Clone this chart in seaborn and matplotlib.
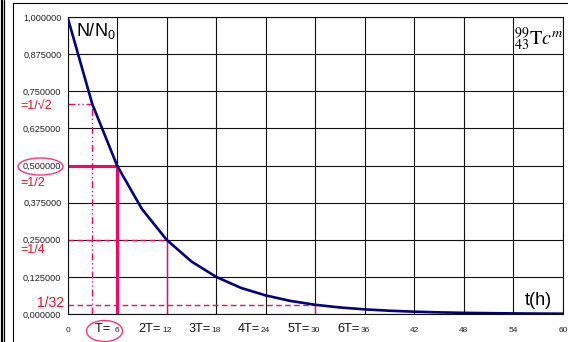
import numpy as np
import pandas as pd
import matplotlib
matplotlib.use("Agg")
import matplotlib.pyplot as plt
import matplotlib.transforms as mtransforms
from matplotlib.patches import Ellipse
from matplotlib.lines import Line2D
import seaborn as sns

# ---- data ----
t_hours = [0, 3, 6, 9, 12, 15, 18, 21, 24, 27, 30, 33, 36, 39, 42, 45, 48, 51, 54, 57, 60]
n_ratio = [1.000, 0.707, 0.500, 0.354, 0.250, 0.177, 0.125, 0.088, 0.0625, 0.044, 0.031,
           0.022, 0.0156, 0.011, 0.0078, 0.0055, 0.0039, 0.0028, 0.0020, 0.0014, 0.0010]

x_ticks = [0, 6, 12, 18, 24, 30, 36, 42, 48, 54, 60]
x_tick_numbers = ["0", "6", "12", "18", "24", "30", "36", "42", "48", "54", "60"]
x_tick_prefixes = ["", "T= ", "2T=", "3T=", "4T=", "5T=", "6T=", "", "", "", ""]

y_ticks = [0, 0.125, 0.25, 0.375, 0.5, 0.625, 0.75, 0.875, 1.0]
y_tick_labels = ["0,000000", "0,125000", "0,250000", "0,375000", "0,500000",
                 "0,625000", "0,750000", "0,875000", "1,000000"]

guide_times = [3, 6, 12, 30]
guide_levels = [0.7071, 0.5, 0.25, 0.03125]
guide_labels = ["=1/\u221a2", "=1/2", "=1/4", "1/32"]

# ---- style ----
sns.set_style("white")
plt.rcParams["font.family"] = ["Liberation Sans", "DejaVu Sans"]
plt.rcParams["mathtext.fontset"] = "custom"
plt.rcParams["mathtext.rm"] = "Liberation Sans"
plt.rcParams["mathtext.it"] = "Liberation Sans:italic"
plt.rcParams["mathtext.bf"] = "Liberation Sans:bold"

W, H = 568, 342
fig = plt.figure(figsize=(W / 100, H / 100), dpi=100)
fig.patch.set_facecolor("white")

def P(x, y):
    return (x / W, 1 - y / H)

ax_l, ax_r, ax_t, ax_b = 67.5, 563, 17, 314
ax = fig.add_axes([ax_l / W, 1 - ax_b / H, (ax_r - ax_l) / W, (ax_b - ax_t) / H])

RED_LINE = "#FF0066"
RED_TEXT = "#E8102A"

# guide lines
ax.plot([0, guide_times[0]], [guide_levels[0]] * 2, color=RED_LINE, lw=1.0,
        dashes=(5, 2, 1, 2, 1, 2), zorder=2)
ax.plot([guide_times[0]] * 2, [0, guide_levels[0]], color=RED_LINE, lw=1.0,
        dashes=(5, 2, 1, 2, 1, 2), zorder=2)
ax.plot([0, guide_times[1]], [guide_levels[1]] * 2, color=RED_LINE, lw=2.2, zorder=2)
ax.plot([guide_times[1]] * 2, [0, guide_levels[1]], color=RED_LINE, lw=2.2, zorder=2)
ax.plot([0, guide_times[2]], [guide_levels[2]] * 2, color=RED_LINE, lw=1.0,
        dashes=(4, 2.5), zorder=2)
ax.plot([guide_times[2]] * 2, [0, guide_levels[2]], color=RED_LINE, lw=1.0, zorder=2)
ax.plot([0, guide_times[3]], [guide_levels[3]] * 2, color=RED_LINE, lw=1.0,
        dashes=(4, 2.5), zorder=2)
ax.plot([guide_times[3]] * 2, [0, guide_levels[3]], color=RED_LINE, lw=1.0, zorder=2)

# decay curve
df = pd.DataFrame({"t": t_hours, "n": n_ratio})
sns.lineplot(data=df, x="t", y="n", ax=ax, color="#000080", lw=1.9, zorder=3)

ax.set_xlim(0, 60)
ax.set_ylim(0, 1)
ax.set_xlabel("")
ax.set_ylabel("")
ax.set_xticks(x_ticks)
ax.set_xticklabels(x_tick_numbers, fontsize=6, color="#222222")
ax.set_yticks(y_ticks)
ax.set_yticklabels(y_tick_labels, fontsize=6.6, color="#222222")
ax.tick_params(axis="x", direction="out", length=3, width=0.8, pad=6.2, colors="#222222")
ax.tick_params(axis="y", direction="out", length=3.6, width=0.8, pad=0.8, colors="#222222")
ax.grid(True, color="#111111", lw=0.8)
for s in ax.spines.values():
    s.set_color("#111111")
    s.set_linewidth(0.8)

# x tick prefixes (T=, 2T=, ...)
for xt, num, pre in zip(x_ticks, x_tick_numbers, x_tick_prefixes):
    if not pre:
        continue
    halfw = len(num) * 0.556 * 6 / 2 + 0.6
    tr = ax.transData + mtransforms.ScaledTranslation(-halfw / 72, 0, fig.dpi_scale_trans)
    tr = mtransforms.blended_transform_factory(tr, fig.transFigure)
    ax.text(xt, 1 - 331.7 / H, pre, transform=tr, ha="right", va="baseline",
            fontsize=9.2, color="#111111")

# red fraction labels
fig.text(*P(20, 106), guide_labels[0], fontsize=9, color=RED_TEXT, ha="left", va="center")
fig.text(*P(20, 183), guide_labels[1], fontsize=9, color=RED_TEXT, ha="left", va="center")
fig.text(*P(20, 250), guide_labels[2], fontsize=9, color=RED_TEXT, ha="left", va="center")
fig.text(*P(37, 303), guide_labels[3], fontsize=10, color=RED_TEXT, ha="left", va="center")

# ellipses
fig.patches.append(Ellipse(P(40.5, 166.5), 45 / W, 17 / H, fill=False, ec="#FF3377",
                           lw=1.0, transform=fig.transFigure, figure=fig))
fig.patches.append(Ellipse(P(104.5, 331), 36 / W, 21 / H, fill=False, ec="#FF3377",
                           lw=1.0, transform=fig.transFigure, figure=fig))

# in-plot texts
fig.text(*P(76, 36), r"N/N$_0$", fontsize=13, color="black", ha="left", va="baseline")
fig.text(*P(525, 305), "t(h)", fontsize=13, color="black", ha="left", va="baseline")
fig.text(*P(514, 45), r"$^{99}_{43}\mathrm{T}c^{m}$", fontsize=14.5, color="black",
         ha="left", va="baseline", math_fontfamily="stix")

# frame lines
def fline(xs, ys, lw):
    fig.lines.append(Line2D([x / W for x in xs], [1 - y / H for y in ys], lw=lw,
                            color="black", transform=fig.transFigure, figure=fig))

fline([1.5, 1.5], [0, H], 1.6)
fline([4, 4], [0, H], 0.9)
fline([13, 13], [2.5, H], 0.8)
fline([13, W], [2.5, 2.5], 0.8)

fig.savefig("out.png", dpi=100)
